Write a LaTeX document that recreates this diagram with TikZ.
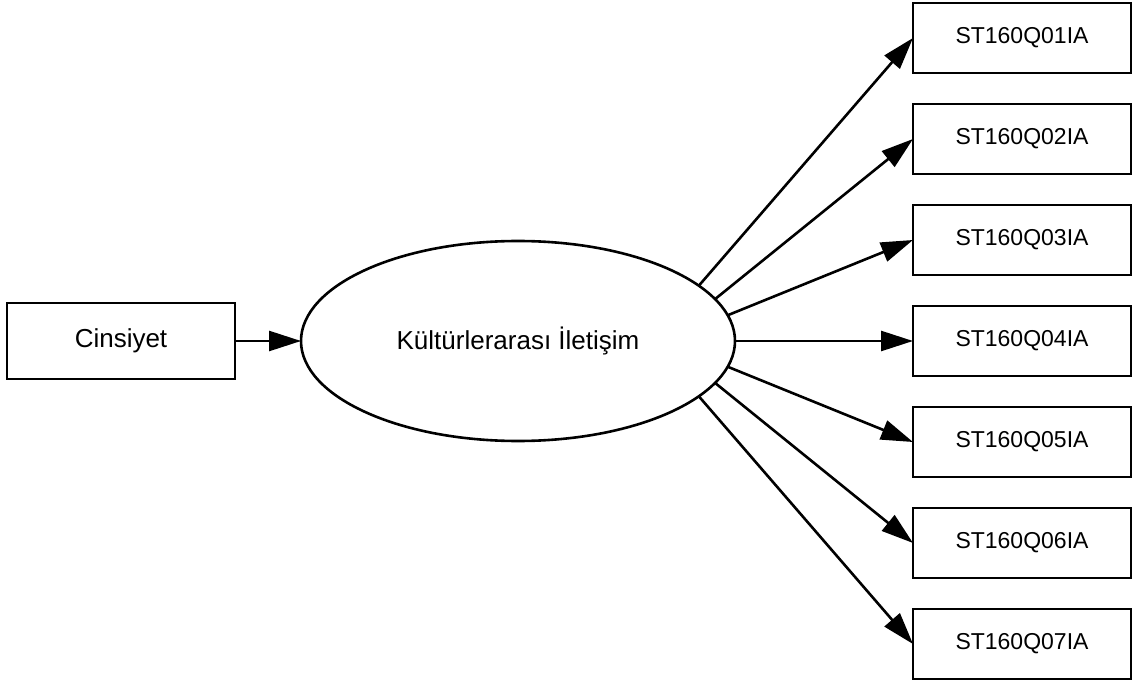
\documentclass[tikz,border=0pt]{standalone}
\usepackage{fontspec}
\setmainfont{Liberation Sans}
\usepackage{tikz}
\usetikzlibrary{shapes, arrows.meta, positioning}
\tikzset{
    block/.style={rectangle, draw, line width=2.8pt, outer sep=0pt, align=center, minimum width=228pt, minimum height=76pt, font=\fontsize{26}{30}\selectfont},
    item/.style={rectangle, draw, line width=2.8pt, outer sep=0pt, align=center, minimum width=218pt, minimum height=70pt},
    latent/.style={ellipse, draw, line width=2.6pt, outer sep=0pt, align=center, minimum width=434pt, minimum height=200pt, font=\fontsize{26}{30}\selectfont},
    arrow/.style={line width=2.6pt, -{Triangle[length=32pt, width=20pt]}}
}

\begin{document}
\begin{tikzpicture}[x=1pt, y=1pt, node distance=31pt, font=\fontsize{23}{27}\selectfont]
            \useasboundingbox (0,0) rectangle (1132,-684);
            \node[latent] (kultur) at (518,-341) {Kültürlerarası İletişim};
            \node[block, left=66pt of kultur] (cinsiyet) {Cinsiyet};
            \node[item] (q1) at (1022,-38) {ST160Q01IA};
            \node[item, below=of q1] (q2) {ST160Q02IA};
            \node[item, below=of q2] (q3) {ST160Q03IA};
            \node[item, below=of q3] (q4) {ST160Q04IA};
            \node[item, below=of q4] (q5) {ST160Q05IA};
            \node[item, below=of q5] (q6) {ST160Q06IA};
            \node[item, below=of q6] (q7) {ST160Q07IA};
            \draw[arrow] (cinsiyet) -- (kultur);
            \draw[arrow] (kultur.17) -- (q1.west);
            \draw[arrow] (kultur.12) -- (q2.west);
            \draw[arrow] (kultur.7) -- (q3.west);
            \draw[arrow] (kultur.east) -- (q4.west);
            \draw[arrow] (kultur.-7) -- (q5.west);
            \draw[arrow] (kultur.-12) -- (q6.west);
            \draw[arrow] (kultur.-17) -- (q7.west);
        \end{tikzpicture}
\end{document}
